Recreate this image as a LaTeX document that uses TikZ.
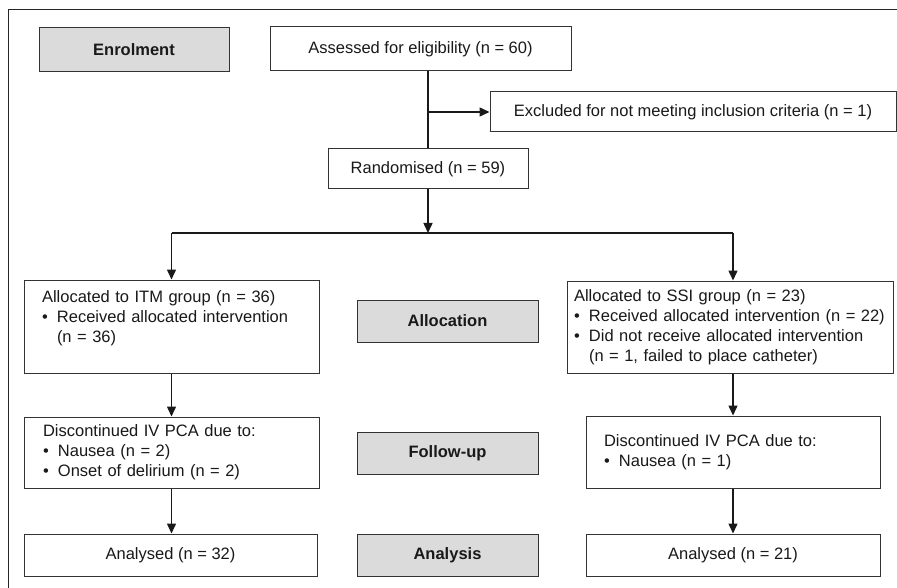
\documentclass[tikz,border=0pt]{standalone}
\usepackage{fontspec}
\setmainfont{Liberation Sans}
\usetikzlibrary{positioning,arrows.meta}

\newcommand{\bitem}[1]{\makebox[15pt][l]{\textbullet}#1}
\newcommand{\bcont}[1]{\hspace*{15pt}#1}

\begin{document}
\begin{tikzpicture}[x=1pt, y=-1pt,
    phase/.style={rectangle, draw=black!80, fill=black!14, line width=1pt, minimum width=181pt, minimum height=42pt, inner sep=0pt, text=black!90, font=\fontsize{16.5}{20}\selectfont\bfseries},
    stage/.style={rectangle, draw=black!80, fill=white, line width=1pt, inner sep=0pt, text=black!90, font=\fontsize{16.5}{20}\selectfont},
    listing/.style={stage, align=left},
    arrow/.style={-{Triangle[length=10pt,width=9pt]}, line width=1.5pt, black!90},
    link/.style={line width=1.5pt, black!90}
]
\useasboundingbox (0,0) rectangle (897,588);

% Frame
\draw[line width=1pt, black!85] (897,10) -- (8,10) -- (8,588);

% Phase labels
\node[phase, minimum width=190pt, minimum height=44pt] (enrol) at (134,50) {Enrolment};
\node[phase] (alloc) at (447.5,321) {Allocation};
\node[phase] (follow) at (447.5,453.5) {Follow-up};
\node[phase] (analysis) at (447.5,555) {Analysis};

% Enrolment
\node[stage, minimum width=301pt, minimum height=44pt] (assess) at (420.5,49) {Assessed for eligibility (n = 60)};
\node[stage, minimum width=406pt, minimum height=40pt] (excl) at (693,112) {Excluded for not meeting inclusion criteria (n = 1)};
\node[stage, minimum width=200pt, minimum height=40pt] (rand) at (428,169) {Randomised (n = 59)};
\coordinate (split) at (428,233);

% Allocation
\node[listing, minimum width=295pt, minimum height=93pt, text width=259pt] (itm) at (171.5,326.5) {
    Allocated to ITM group (n = 36)\\
    \bitem{Received allocated intervention}\\
    \bcont{(n = 36)}\\
    \mbox{}
};
\node[listing, minimum width=326pt, minimum height=92pt, text width=312pt] (ssi) at (730,327) {
    Allocated to SSI group (n = 23)\\
    \bitem{Received allocated intervention (n = 22)}\\
    \bitem{Did not receive allocated intervention}\\
    \bcont{(n = 1, failed to place catheter)}
};

% Follow-up
\node[listing, minimum width=295pt, minimum height=71pt, text width=257pt] (dleft) at (171.5,452.5) {
    Discontinued IV PCA due to:\\
    \bitem{Nausea (n = 2)}\\
    \bitem{Onset of delirium (n = 2)}
};
\node[listing, minimum width=294pt, minimum height=72pt, text width=258pt] (dright) at (733,452) {
    Discontinued IV PCA due to:\\
    \bitem{Nausea (n = 1)}
};

% Analysis
\node[stage, minimum width=293pt, minimum height=42pt] (aleft) at (170.5,555) {Analysed (n = 32)};
\node[stage, minimum width=294pt, minimum height=42pt] (aright) at (733,555) {Analysed (n = 21)};

% Connectors
\draw[link] (assess.south -| rand.north) -- (rand.north);
\draw[arrow] (excl.west -| rand.north) -- (excl.west);
\draw[arrow] (rand.south) -- (split);
\draw[link] (split -| itm.north) -- (split -| dright.north);
\draw[arrow] (split -| itm.north) -- (itm.north);
\draw[arrow] (split -| dright.north) -- (ssi.north -| dright.north);
\draw[arrow] (itm.south) -- (dleft.north);
\draw[arrow] (ssi.south -| dright.north) -- (dright.north);
\draw[arrow] (dleft.south) -- (dleft.south |- aleft.north);
\draw[arrow] (dright.south) -- (aright.north);

\end{tikzpicture}
\end{document}
